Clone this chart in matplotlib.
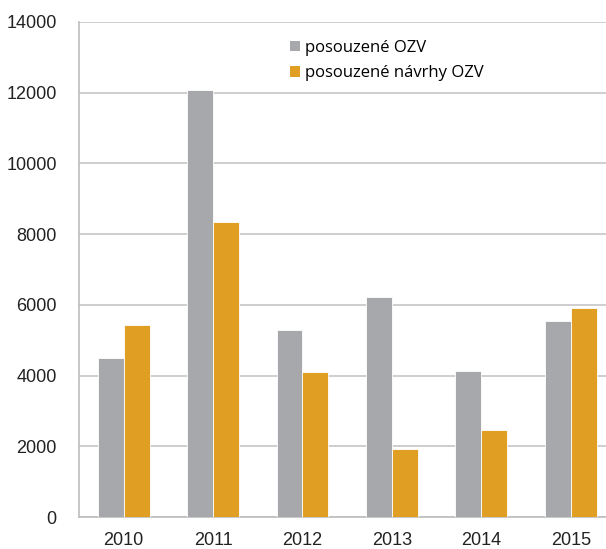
import matplotlib
matplotlib.use("Agg")
import matplotlib.pyplot as plt
from matplotlib.patches import Patch
import numpy as np

years = ["2010", "2011", "2012", "2013", "2014", "2015"]
posouzene_ozv = [4510, 12077, 5276, 6227, 4124, 5539]
posouzene_navrhy = [5434, 8350, 4087, 1916, 2473, 5899]
labels = ["posouzené OZV", "posouzené návrhy OZV"]
yticks = [0, 2000, 4000, 6000, 8000, 10000, 12000, 14000]

gray = "#A7A8AC"
orange = "#E09E22"

W, H = 606, 549
fig = plt.figure(figsize=(W/100, H/100), dpi=100)
left, right, top, bottom = 79, 606, 22, 517
ax = fig.add_axes([left/W, 1-bottom/H, (right-left)/W, (bottom-top)/H])

x = np.arange(len(years))
bw = 0.29
ax.bar(x - bw/2, posouzene_ozv, width=bw, color=gray, edgecolor="white", linewidth=0.6, zorder=3)
ax.bar(x + bw/2, posouzene_navrhy, width=bw, color=orange, edgecolor="white", linewidth=0.6, zorder=3)

ax.set_xlim(-0.5, 5.395)
ax.set_ylim(0, 14000)
ax.set_yticks(yticks)
ax.set_yticklabels([str(v) for v in yticks], fontsize=13, family="Liberation Sans", color="#222222")
ax.set_xticks(x)
ax.set_xticklabels(years, fontsize=13, family="Liberation Sans", color="#222222")
ax.tick_params(axis="y", length=0, pad=16)
ax.tick_params(axis="x", length=0, pad=11)
ax.yaxis.grid(True, color="#C6C6C6", linewidth=1.2, zorder=0)
ax.set_axisbelow(True)
for s in ["top", "right"]:
    ax.spines[s].set_visible(False)
for s in ["left", "bottom"]:
    ax.spines[s].set_color("#BDBDBD")
    ax.spines[s].set_linewidth(1.2)

handles = [Patch(facecolor=gray, edgecolor="none"), Patch(facecolor=orange, edgecolor="none")]
leg = ax.legend(handles, labels, loc="upper left", bbox_to_anchor=((290-left)/(right-left), 1-(40-top)/(bottom-top)),
                frameon=False, prop={"family": "Open Sans", "size": 12}, handlelength=0.6, handleheight=0.6,
                handletextpad=0.3, labelspacing=0.55, borderaxespad=0, borderpad=0)

fig.savefig("out.png", dpi=100)
